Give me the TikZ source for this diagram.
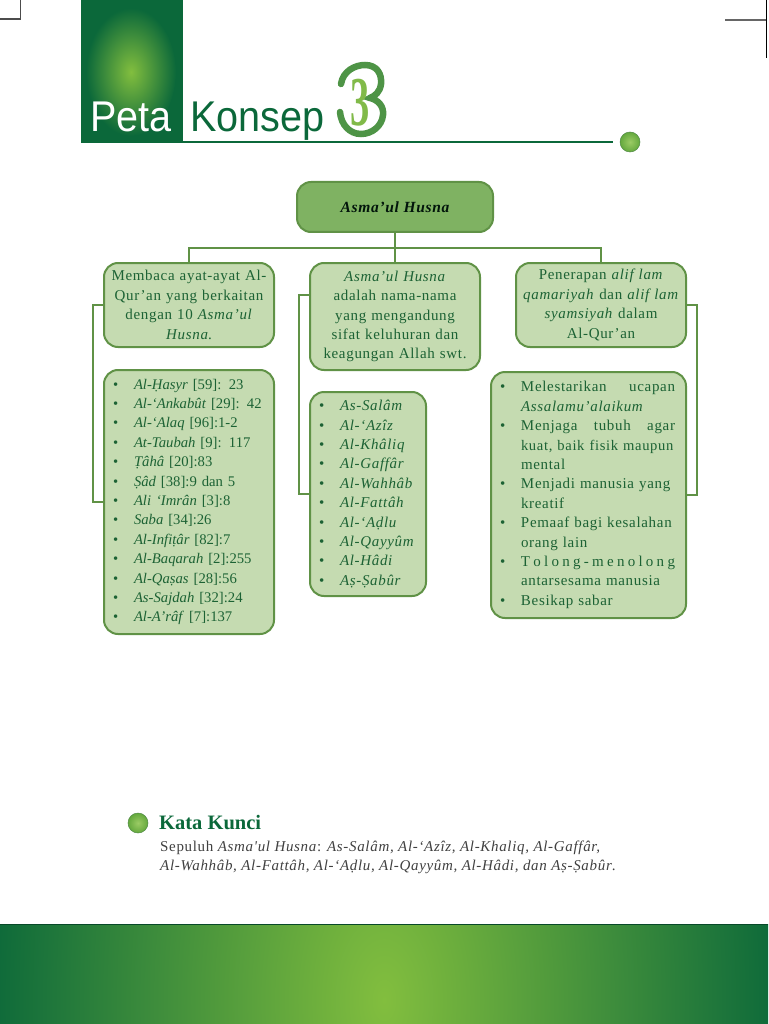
\documentclass[tikz,border=0pt]{standalone}
\usepackage{fontspec}
\setmainfont{Liberation Serif}
\newfontfamily\headfont{Liberation Sans}
\newfontfamily\spaced[LetterSpace=4.5]{Liberation Serif}
\usetikzlibrary{arrows.meta,positioning,calc}
\definecolor{leaf}{RGB}{197,219,177}
\definecolor{stem}{RGB}{96,146,70}
\definecolor{moss}{RGB}{127,178,98}
\definecolor{forest}{RGB}{11,104,58}
\definecolor{lime}{RGB}{130,190,62}
\definecolor{inkgreen}{RGB}{28,98,52}
\definecolor{chapgreen}{RGB}{78,148,70}
\tikzset{
  conceptbox/.style={draw=stem,line width=2pt,fill=leaf,rounded corners=14pt,inner sep=0pt,text=inkgreen,font=\spaced\fontsize{15}{19.4}\selectfont},
  link/.style={stem,line width=2pt},
  orb/.style={circle,inner sep=0pt,minimum size=20pt,draw=stem!80!forest,line width=.5pt,inner color=lime!80!white,outer color=lime!75!forest},
}
\newcommand{\itm}{\makebox[30pt][l]{\hspace{9pt}\textbullet}}
\newcommand{\rr}[1]{\textit{#1}}

\begin{document}
\begin{tikzpicture}[x=1pt,y=-1pt,every node/.style={font=\small}]
\useasboundingbox (0,0) rectangle (768,1024);
% header block
\fill[forest] (81,0) rectangle (183,143);
\shade[inner color=lime,outer color=forest] (131,72) ellipse (45 and 64);
\draw[forest,line width=2pt] (183,142) -- (613,142);
\node[anchor=base west,inner sep=0pt,text=white,xscale=.92,font=\headfont\fontsize{43}{43}\selectfont] (peta) at (90,132) {Peta};
\node[anchor=base west,inner sep=0pt,text=forest,xscale=.92,font=\headfont\fontsize{43}{43}\selectfont] (konsep) at (190,132) {Konsep};
\draw[chapgreen,line width=6.5pt,line cap=round] (341,84) .. controls (343,71) and (355,65) .. (365,65) .. controls (377,65) and (382,74) .. (381,84) .. controls (380,92) and (375,96) .. (370,98) .. controls (378,100) and (384,106) .. (383,115) .. controls (382,126) and (372,134) .. (361,134) .. controls (350,134) and (341,125) .. (340,112);
\node[anchor=center,inner sep=0pt,text=lime!70!moss,xscale=.55,font=\fontsize{70}{70}\selectfont\bfseries] (chapnum) at (360,103) {3};
\node[orb] (headorb) at (630,142) {};
% crop marks
\draw[black!70,line width=1.1pt] (0,19) -- (20.5,19) -- (20.5,0);
\draw[black!60,line width=1.1pt] (725,20) -- (766,20);
\draw[black,line width=1pt] (766,0) -- (766,58);
% concept boxes
\node[conceptbox,fill=moss,minimum width=196pt,minimum height=50pt,font=\spaced\fontsize{15.5}{17}\selectfont\bfseries\itshape,text=black!80!forest] (root) at (395,207) {Asma’ul Husna};
\node[conceptbox,minimum width=170pt,text width=170pt,minimum height=84pt,align=center] (baca) at (189,305) {Membaca ayat-ayat Al-\\Qur’an yang berkaitan\\dengan 10 \rr{Asma’ul}\\\rr{Husna}.};
\node[conceptbox,minimum width=170pt,text width=170pt,minimum height=107pt,align=center] (arti) at (395,316.5) {\rr{Asma’ul Husna}\\adalah nama-nama\\yang mengandung\\sifat keluhuran dan\\keagungan Allah swt.};
\node[conceptbox,minimum width=170pt,text width=170pt,minimum height=84pt,align=center] (terap) at (601,305) {Penerapan \rr{alif lam}\\\rr{qamariyah} dan \rr{alif lam}\\\rr{syamsiyah} dalam\\Al-Qur’an};
\node[conceptbox,minimum width=170pt,text width=170pt,minimum height=264pt,align=left,font=\fontsize{14.7}{19.4}\selectfont] (surah) at (189,502) {\itm\rr{Al-\d{H}asyr} [59]: 23\\
\itm\rr{Al-‘Ankabût} [29]: 42\\
\itm\rr{Al-‘Alaq} [96]:1-2\\
\itm\rr{At-Taubah} [9]: 117\\
\itm\rr{\d{T}âhâ} [20]:83\\
\itm\rr{\d{S}âd} [38]:9 dan 5\\
\itm\rr{Ali ‘Imrân} [3]:8\\
\itm\rr{Saba} [34]:26\\
\itm\rr{Al-Infi\d{t}âr} [82]:7\\
\itm\rr{Al-Baqarah} [2]:255\\
\itm\rr{Al-Qa\d{s}as} [28]:56\\
\itm\rr{As-Sajdah} [32]:24\\
\itm\rr{Al-A’râf} [7]:137};
\node[conceptbox,minimum width=116pt,text width=116pt,minimum height=204pt,align=left] (nama) at (368,494) {\itm\rr{As-Salâm}\\
\itm\rr{Al-‘Azîz}\\
\itm\rr{Al-Khâliq}\\
\itm\rr{Al-Gaffâr}\\
\itm\rr{Al-Wahhâb}\\
\itm\rr{Al-Fattâh}\\
\itm\rr{Al-‘A\d{d}lu}\\
\itm\rr{Al-Qayyûm}\\
\itm\rr{Al-Hâdi}\\
\itm\rr{A\d{s}-\d{S}abûr}};
\node[conceptbox,minimum width=195pt,text width=195pt,minimum height=246pt,align=left] (sikap) at (588.5,495) {\itm\makebox[154pt][s]{Melestarikan\hfill ucapan}\\
\hspace*{30pt}\rr{Assalamu’alaikum}\\
\itm\makebox[154pt][s]{Menjaga\hfill tubuh\hfill agar}\\
\hspace*{30pt}\makebox[154pt][s]{\fontsize{14.6}{19.4}\selectfont kuat, baik fisik maupun}\\
\hspace*{30pt}mental\\
\itm\makebox[154pt][s]{Menjadi manusia yang}\\
\hspace*{30pt}kreatif\\
\itm\makebox[154pt][s]{Pemaaf bagi kesalahan}\\
\hspace*{30pt}orang lain\\
\itm\makebox[154pt][s]{T\hfill o\hfill l\hfill o\hfill n\hfill g\hfill -\hfill m\hfill e\hfill n\hfill o\hfill l\hfill o\hfill n\hfill g}\\
\hspace*{30pt}antarsesama manusia\\
\itm Besikap sabar};
% connectors
\coordinate (hub) at (395,248);
\draw[link] (root.south) -- (arti.north);
\draw[link] (baca.north) |- (hub) -| (terap.north);
\draw[link] (baca.west) -- ++(-10,0) |- (surah.west);
\draw[link] ($(arti.west)+(0,-22)$) -- ++(-10,0) |- (nama.west);
\draw[link] (terap.east) -- ++(10,0) |- (sikap.east);
% key words
\node[orb] (keyorb) at (138,823) {};
\node[anchor=base west,inner sep=0pt,text=forest,font=\fontsize{20.5}{20.5}\selectfont\bfseries] (keyhead) at (159,829) {Kata Kunci};
\node[anchor=north west,inner sep=0pt,align=left,text=black!75,font=\spaced\fontsize{15}{19}\selectfont] (keytext) at (160,841) {Sepuluh \rr{Asma'ul Husna}: \rr{As-Salâm, Al-‘Azîz, Al-Khaliq, Al-Gaffâr,}\\\rr{Al-Wahhâb, Al-Fattâh, Al-‘A\d{d}lu, Al-Qayyûm, Al-Hâdi, dan A\d{s}-\d{S}abûr}.};
% bottom band
\begin{scope}
\clip (0,924) rectangle (768,1024);
\fill[forest] (0,924) rectangle (768,1024);
\shade[inner color=lime,outer color=forest] (384,1000) ellipse (400 and 700);
\end{scope}
\draw[forest!70!black,line width=1pt] (0,924) -- (768,924);
\end{tikzpicture}
\end{document}
